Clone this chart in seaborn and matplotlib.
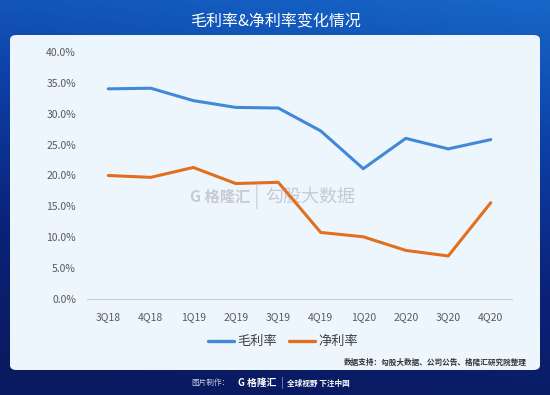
import numpy as np
import pandas as pd
import matplotlib
matplotlib.use("Agg")
import matplotlib.pyplot as plt
from matplotlib.patches import FancyBboxPatch
from matplotlib.colors import LinearSegmentedColormap
from matplotlib.lines import Line2D
import seaborn as sns

quarters = ["3Q18", "4Q18", "1Q19", "2Q19", "3Q19", "4Q19", "1Q20", "2Q20", "3Q20", "4Q20"]
gross_margin = [34.0, 34.1, 32.1, 31.0, 30.9, 27.2, 21.1, 26.0, 24.3, 25.8]
net_margin = [20.0, 19.7, 21.3, 18.7, 18.9, 10.8, 10.1, 7.9, 7.0, 15.6]
series_names = ["毛利率", "净利率"]
y_ticks = [0, 5, 10, 15, 20, 25, 30, 35, 40]

sns.set_theme(style="white")
plt.rcParams["font.family"] = ["Noto Sans CJK SC", "DejaVu Sans"]

df = pd.DataFrame({
    "quarter": quarters * 2,
    "idx": list(range(len(quarters))) * 2,
    "value": gross_margin + net_margin,
    "series": [series_names[0]] * len(quarters) + [series_names[1]] * len(quarters),
})

W, H = 550, 395
fig = plt.figure(figsize=(W / 100, H / 100), dpi=100)

# background gradient
bg = fig.add_axes([0, 0, 1, 1])
bg.set_axis_off()
ny, nx = 200, 200
yy, xx = np.mgrid[0:1:ny * 1j, 0:1:nx * 1j]
cmap = LinearSegmentedColormap.from_list("bgc", ["#1767c9", "#0d3fa6", "#0a2278", "#0a1a60"])
val = yy * 0.9 + (1 - xx) * 0.15
bg.imshow(val, cmap=cmap, aspect="auto", extent=[0, 1, 0, 1], origin="upper", vmin=0, vmax=1)
bg.set_xlim(0, 1)
bg.set_ylim(0, 1)

# white panel
panel = FancyBboxPatch((10 / W, 1 - 370 / H), 530 / W, (370 - 35) / H,
                       boxstyle="round,pad=0,rounding_size=0.012",
                       transform=fig.transFigure, facecolor="#eef6fd", edgecolor="none", zorder=1)
bg.add_patch(panel)

fig.text(0.5, 1 - 22 / H, "毛利率&净利率变化情况", ha="center", va="center",
         color="white", fontsize=11.5, fontweight="medium")

ax = fig.add_axes([87 / W, 1 - 299.3 / H, (512 - 87) / W, (299.3 - 51.7) / H])
ax.patch.set_alpha(0)

# watermark
ax.text(0.384, 0.413, "G 格隆汇", transform=ax.transAxes, ha="right", va="center",
        color="#c6cbd3", fontsize=11, fontweight="bold", zorder=0)
ax.text(0.40, 0.413, "|", transform=ax.transAxes, ha="center", va="center",
        color="#d0d4da", fontsize=15, zorder=0)
ax.text(0.419, 0.413, "勾股大数据", transform=ax.transAxes, ha="left", va="center",
        color="#c6cbd3", fontsize=13, zorder=0)

palette = {series_names[0]: "#4189d8", series_names[1]: "#e06f1f"}
sns.lineplot(data=df, x="idx", y="value", hue="series", palette=palette,
             linewidth=2.2, ax=ax, legend=False, sort=False)

ax.set_xlim(-0.5, len(quarters) - 0.5)
ax.set_ylim(0, 40)
ax.set_xticks(range(len(quarters)))
ax.set_xticklabels(quarters)
ax.set_yticks(y_ticks)
ax.set_yticklabels([f"{v:.1f}%" for v in y_ticks])
ax.tick_params(axis="both", labelsize=7.5, colors="#595959", length=0)
ax.tick_params(axis="y", pad=8)
ax.tick_params(axis="x", pad=9)
ax.set_xlabel("")
ax.set_ylabel("")
for s in ["top", "right", "left"]:
    ax.spines[s].set_visible(False)
ax.spines["bottom"].set_color("#c8ccd2")
ax.spines["bottom"].set_linewidth(0.8)

# legend
handles = [Line2D([0], [0], color=palette[n], lw=2.4) for n in series_names]
fig.legend(handles, series_names, loc="center", bbox_to_anchor=(283 / W, 1 - 341.7 / H),
           ncol=2, frameon=False, fontsize=9.5, handlelength=2.0, handletextpad=0.25,
           columnspacing=0.9, labelcolor="#404040")

fig.text(527 / W, 1 - 362.7 / H, "数据支持：勾股大数据、公司公告、格隆汇研究院整理",
         ha="right", va="center", color="#333333", fontsize=5.5, fontweight="bold")

# footer
fig.text(230 / W, 1 - 383 / H, "图片制作：", ha="right", va="center", color="#c8d0e8", fontsize=5.5)
fig.text(238 / W, 1 - 383 / H, "G 格隆汇", ha="left", va="center", color="white",
         fontsize=7, fontweight="bold")
fig.text(282 / W, 1 - 383 / H, "|", ha="center", va="center", color="#8090c0", fontsize=8)
fig.text(287 / W, 1 - 383 / H, "全球视野 下注中国", ha="left", va="center", color="white",
         fontsize=5.5, fontweight="bold")

fig.savefig("out.png", dpi=100)
